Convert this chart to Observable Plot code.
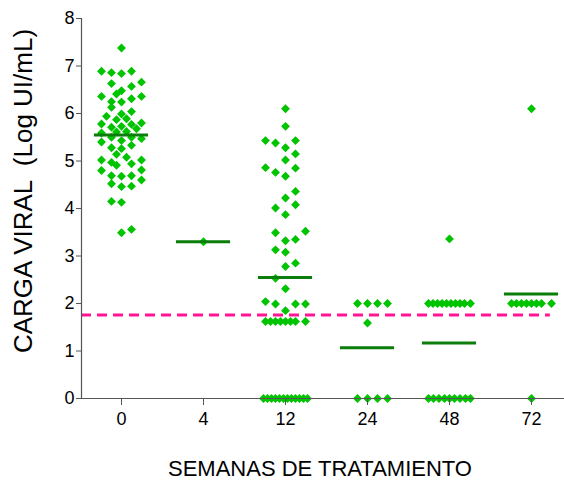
<!DOCTYPE html>
<html>
<head>
<meta charset="utf-8">
<script src="https://cdn.jsdelivr.net/npm/d3@7"></script>
<script src="https://cdn.jsdelivr.net/npm/@observablehq/plot@0.6"></script>
<style>
  html, body { margin: 0; padding: 0; background: #fff; }
</style>
</head>
<body>
<div id="chart"></div>
<script>
// ---- Data ----
const weeks = ["0", "4", "12", "24", "48", "72"];

// Week 0: values and horizontal jitter slots
const w0Values = [7.38, 6.89, 6.86, 6.84, 6.89, 6.63, 6.57, 6.66, 6.41, 6.48, 6.36, 6.25, 6.24, 6.31, 6.36,
  6.13, 6.04, 5.94, 5.99, 5.87, 5.89, 5.78, 5.80, 5.71, 5.73, 5.77, 5.68, 5.59, 5.61, 5.62, 5.50, 5.50,
  5.47, 5.40, 5.43, 5.33, 5.28, 5.14, 5.26, 5.02, 4.97, 5.08, 5.02, 4.91, 4.94, 4.80, 4.81, 4.69, 4.68,
  4.69, 4.60, 4.52, 4.46, 4.47, 4.15, 4.13, 3.49, 3.56];
const w0Jitter = [0, -2, -1, 0, 1, -1, 1, 2, -0.5, 0, -2, -1, 0, 1, 2,
  -1, 1, -1.5, 0, -0.5, 0.5, -2, 2, -1, 0, 1, 1.5, -2, -0.5, 0.5, -1, 1,
  2, -2, 0, 1, -1, -0.5, 0, -2, -1, 0.5, 2, -0.5, 1, -2, 2, -1, 0,
  1, 2, -1, 0, 1, -1, 0, 0, 1];

const w4Values = [3.3];
const w4Jitter = [0];

const w12Values = [6.10, 5.73, 5.43, 5.38, 5.43, 5.28, 5.15, 5.02, 4.86, 4.76, 4.68, 4.85, 4.36, 4.22, 4.08,
  4.01, 3.87, 3.49, 3.52, 3.32, 3.35, 3.13, 3.08, 2.78, 2.85, 2.53, 2.31, 2.04, 1.99, 1.99, 1.99, 1.85,
  1.62, 1.62, 1.62, 1.62, 1.62, 1.62, 1.62, 1.62,
  0, 0, 0, 0, 0, 0, 0, 0, 0, 0, 0, 0];
const w12Jitter = [0, 0, -2, -1, 1, 0, 1, 0, -2, -1, 0, 1, 1, 0, 1,
  -1, 0, -1, 2, 0, 1, -1, 0, 0, 1, -1, 0, -2, -1, 1, 2, 0,
  -2, -1.5, -1, -0.5, 0, 0.5, 1, 2,
  -2.2, -1.8, -1.4, -1, -0.6, -0.2, 0.2, 0.6, 1, 1.4, 1.8, 2.2];

const w24Values = [2, 2, 2, 2, 1.59, 0, 0, 0, 0];
const w24Jitter = [-1, 0, 1, 2, 0, -1, 0, 1, 2];

const w48Values = [3.36, 2, 2, 2, 2, 2, 2, 2, 2, 2, 2, 0, 0, 0, 0, 0, 0, 0, 0, 0];
const w48Jitter = [0, -2.1, -1.65, -1.2, -0.75, -0.3, 0.15, 0.6, 1.05, 1.5, 2.1,
  -2.1, -1.6, -1.05, -0.5, 0, 0.5, 1.05, 1.6, 2.1];

const w72Values = [6.1, 2, 2, 2, 2, 2, 2, 2, 2, 0];
const w72Jitter = [0, -2, -1.5, -1, -0.5, 0, 0.5, 1, 2, 0];

// Group summary (horizontal bars) and reference threshold
const groupMeans = [5.55, 3.3, 2.55, 1.07, 1.17, 2.2];
const threshold = 1.76;
const thresholdEnd = 5.23; // right end of dashed line, in category units
const yTicks = [0, 1, 2, 3, 4, 5, 6, 7, 8];

// ---- Build table ----
const SLOT = 10 / 82;          // one jitter slot as a fraction of the category step
const MEAN_HALF = 0.33;        // half-width of summary bar in category units
const groups = [
  [w0Values, w0Jitter], [w4Values, w4Jitter], [w12Values, w12Jitter],
  [w24Values, w24Jitter], [w48Values, w48Jitter], [w72Values, w72Jitter]
];
const points = groups.flatMap(([vals, jit], i) =>
  vals.map((v, k) => ({group: i, value: v, x: i + jit[k] * SLOT})));
const means = groupMeans.map((m, i) => ({group: i, value: m}));

const xDomain = [-40 / 82, 443 / 82];

const chart = Plot.plot({
  width: 564,
  height: 485,
  marginLeft: 81,
  marginRight: 0,
  marginTop: 18,
  marginBottom: 87,
  style: {fontFamily: "'Liberation Sans', Arial, sans-serif", fontSize: "18px", background: "#fff", color: "#000"},
  x: {domain: xDomain, axis: null},
  y: {domain: [0, 8], axis: null},
  marks: [
    Plot.dot(points, {x: "x", y: "value", symbol: "diamond2", r: 4, fill: "#00c400", stroke: "none"}),
    Plot.ruleY(means, {y: "value", x1: d => d.group - MEAN_HALF, x2: d => d.group + MEAN_HALF, stroke: "#0a7d0a", strokeWidth: 3}),
    Plot.ruleY([threshold], {x1: xDomain[0], x2: thresholdEnd, stroke: "#ff1493", strokeWidth: 3, strokeDasharray: "10,6"}),
    Plot.ruleY([0], {stroke: "#555", strokeWidth: 1.2}),
    Plot.ruleX([xDomain[0]], {y1: 0, y2: 8, stroke: "#555", strokeWidth: 1.2}),
    Plot.axisX({ticks: d3.range(weeks.length), tickFormat: i => weeks[i], tickSize: 7, tickPadding: 7, label: null, stroke: "#555", fontSize: 18, color: "#000"}),
    Plot.axisY({ticks: yTicks, tickSize: 5, tickPadding: 2, label: null, stroke: "#555", fontSize: 18})
  ]
});

const svg = d3.select(chart);
svg.append("text")
  .attr("x", 320).attr("y", 476)
  .attr("text-anchor", "middle")
  .attr("font-size", 22)
  .attr("fill", "#000")
  .text("SEMANAS DE TRATAMIENTO");
svg.append("text")
  .attr("transform", "translate(32,191) rotate(-90)")
  .attr("text-anchor", "middle")
  .attr("font-size", 26)
  .attr("fill", "#000")
  .attr("xml:space", "preserve")
  .style("white-space", "pre")
  .text("CARGA VIRAL  (Log UI/mL)");

document.getElementById("chart").appendChild(chart);
</script>
</body>
</html>
